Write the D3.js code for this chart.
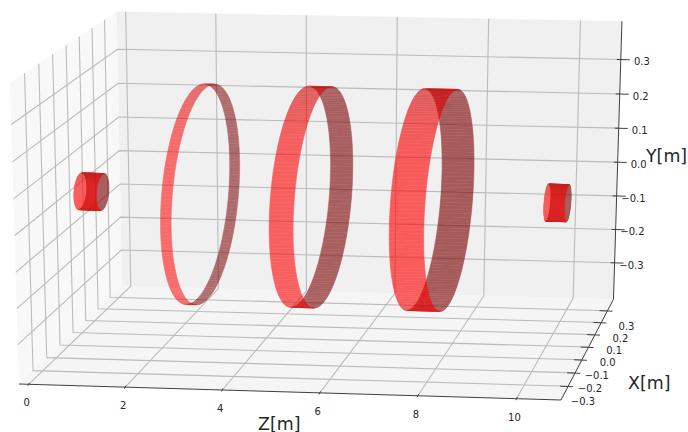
<!DOCTYPE html>
<html>
<head>
<meta charset="utf-8">
<script src="https://cdnjs.cloudflare.com/ajax/libs/d3/7.8.5/d3.min.js"></script>
<style>
  body { margin: 0; background: #fff; }
  text { font-family: "DejaVu Sans", sans-serif; fill: #262626; }
</style>
</head>
<body>
<div id="chart"></div>
<script>
// cylinders along the beam axis
const ringZStart = [0.03, 2.52, 4.75, 7.2, 9.95];
const ringZEnd = [0.51, 2.74, 5.24, 7.9, 10.38];
const ringRadius = [0.05, 0.3, 0.3, 0.3, 0.05];
const ringOpacity = [0.63, 0.55, 0.6, 0.62, 0.63];

const zTicks = [0, 2, 4, 6, 8, 10];
const xTicks = [-0.3, -0.2, -0.1, 0, 0.1, 0.2, 0.3];
const yTicks = [-0.3, -0.2, -0.1, 0, 0.1, 0.2, 0.3];

const zDomain = [-0.2, 10.9];
const xDomain = [-0.4, 0.4];
const yDomain = [-0.41, 0.41];

const width = 688;
const height = 432;

// unit box corners on screen, [z, x, y] in 0..1
const origin = [19, 384];
const boxCorners = [
  [[1, 0, 0], [561, 400]],
  [[0, 1, 0], [122, 286]],
  [[0, 0, 1], [10, 83]],
  [[1, 1, 0], [613, 300]],
  [[0, 1, 1], [116, 11]],
  [[1, 1, 1], [622, 21]],
];

function solve3(A, b) {
  const m = A.map((row, i) => [...row, b[i]]);
  for (let i = 0; i < 3; i++) {
    let p = i;
    for (let r = i + 1; r < 3; r++) if (Math.abs(m[r][i]) > Math.abs(m[p][i])) p = r;
    [m[i], m[p]] = [m[p], m[i]];
    for (let r = 0; r < 3; r++) {
      if (r === i) continue;
      const f = m[r][i] / m[i][i];
      for (let c = i; c < 4; c++) m[r][c] -= f * m[i][c];
    }
  }
  return m.map((row, i) => row[3] / row[i]);
}

// perspective of the box, fitted to its corners
function fitCamera() {
  const axes = boxCorners.slice(0, 3).map((d) => d[1]);
  const rows = [];
  const rhs = [];
  boxCorners.slice(3).forEach(([e, p]) => {
    [0, 1].forEach((k) => {
      rows.push(e.map((ei, i) => ei * (p[k] - axes[i][k])));
      rhs.push(origin[k] - p[k] + d3.sum(e, (ei, i) => ei * (axes[i][k] - origin[k])));
    });
  });
  const AtA = [0, 1, 2].map((i) => [0, 1, 2].map((j) => d3.sum(rows, (r) => r[i] * r[j])));
  const Atb = [0, 1, 2].map((i) => d3.sum(rows, (r, n) => r[i] * rhs[n]));
  const g = solve3(AtA, Atb);
  const a = [0, 1].map((k) => axes.map((ax, i) => ax[k] * (1 + g[i]) - origin[k]));
  return { g, a };
}

const camera = fitCamera();
const zScale = d3.scaleLinear().domain(zDomain).range([0, 1]);
const xScale = d3.scaleLinear().domain(xDomain).range([0, 1]);
const yScale = d3.scaleLinear().domain(yDomain).range([0, 1]);

function project(z, x, y) {
  const e = [zScale(z), xScale(x), yScale(y)];
  const w = 1 + d3.sum(e, (v, i) => v * camera.g[i]);
  return [0, 1].map((k) => (origin[k] + d3.sum(e, (v, i) => v * camera.a[k][i])) / w);
}

const line = d3.line();
const svg = d3.select('#chart').append('svg')
  .attr('width', width)
  .attr('height', height)
  .style('display', 'block');

const [z0, z1] = zDomain;
const [x0, x1] = xDomain;
const [y0, y1] = yDomain;

// panes
const panes = [
  { fill: '#f8f8f8', pts: [[z0, x0, y0], [z0, x1, y0], [z0, x1, y1], [z0, x0, y1]] },
  { fill: '#f5f5f5', pts: [[z0, x0, y0], [z1, x0, y0], [z1, x1, y0], [z0, x1, y0]] },
  { fill: '#f0f0f0', pts: [[z0, x1, y0], [z1, x1, y0], [z1, x1, y1], [z0, x1, y1]] },
];
svg.append('g').selectAll('path').data(panes).enter()
  .append('path')
  .attr('d', (d) => `${line(d.pts.map((p) => project(...p)))}Z`)
  .attr('fill', (d) => d.fill);

// grid
const gridLines = [];
zTicks.forEach((z) => {
  gridLines.push([[z, x0, y0], [z, x1, y0], [z, x1, y1]]);
});
xTicks.forEach((x) => {
  gridLines.push([[z1, x, y0], [z0, x, y0], [z0, x, y1]]);
});
yTicks.forEach((y) => {
  gridLines.push([[z0, x0, y], [z0, x1, y], [z1, x1, y]]);
});
svg.append('g').selectAll('path').data(gridLines).enter()
  .append('path')
  .attr('d', (d) => line(d.map((p) => project(...p))))
  .attr('fill', 'none')
  .attr('stroke', '#bbbbbb')
  .attr('stroke-width', 1.1);

// cylinders, back half first then front half
// the split sits where the ring's outline tops out on screen
const splitAngle = 0.32;
const segments = 90;
function drawHalf(parent, i, front) {
  const r = ringRadius[i];
  const start = (front ? Math.PI / 2 : -Math.PI / 2) - splitAngle;
  const quads = d3.range(segments).map((s) => {
    const a0 = start + (s / segments) * Math.PI;
    const a1 = start + ((s + 1) / segments) * Math.PI;
    const pts = [
      [ringZStart[i], r * Math.cos(a0), r * Math.sin(a0)],
      [ringZEnd[i], r * Math.cos(a0), r * Math.sin(a0)],
      [ringZEnd[i], r * Math.cos(a1), r * Math.sin(a1)],
      [ringZStart[i], r * Math.cos(a1), r * Math.sin(a1)],
    ];
    const upness = Math.abs(Math.sin((a0 + a1) / 2));
    const shade = front ? 255 - 40 * upness ** 6 : 123;
    return { pts, color: `rgb(${Math.round(shade)},0,0)` };
  });
  parent.append('g')
    .attr('opacity', ringOpacity[i])
    .selectAll('path').data(quads).enter()
    .append('path')
    .attr('d', (d) => `${line(d.pts.map((p) => project(...p)))}Z`)
    .attr('fill', (d) => d.color)
    .attr('stroke', (d) => d.color)
    .attr('stroke-width', 0.5);
}
const marks = svg.append('g');
ringRadius.forEach((_, i) => {
  drawHalf(marks, i, false);
  drawHalf(marks, i, true);
});

// axes
const axisLines = [
  [[z0, x0, y0], [z1, x0, y0]],
  [[z1, x0, y0], [z1, x1, y0]],
  [[z1, x1, y0], [z1, x1, y1]],
];
svg.append('g').selectAll('path').data(axisLines).enter()
  .append('path')
  .attr('d', (d) => line(d.map((p) => project(...p))))
  .attr('fill', 'none')
  .attr('stroke', '#404040')
  .attr('stroke-width', 1);

function tickFormat(v) {
  return d3.format('.1f')(v).replace('-', '\u2212');
}

const ticks = svg.append('g');
zTicks.forEach((z) => {
  const [px, py] = project(z, x0, y0);
  ticks.append('path').attr('d', line([[px + 0.8, py - 1.5], [px - 0.8, py + 1.5]]))
    .attr('stroke', '#404040').attr('stroke-width', 1);
  ticks.append('text').attr('x', px - 2).attr('y', py + 22)
    .attr('text-anchor', 'middle').attr('font-size', 10).text(z);
});
xTicks.forEach((x) => {
  const [px, py] = project(z1, x, y0);
  ticks.append('path').attr('d', line([[px - 8, py], [px + 5, py + 0.5]]))
    .attr('stroke', '#404040').attr('stroke-width', 1);
  ticks.append('text').attr('x', px + 27).attr('y', py + 19)
    .attr('text-anchor', 'end').attr('font-size', 10).text(tickFormat(x));
});
yTicks.forEach((y) => {
  const [px, py] = project(z1, x1, y);
  ticks.append('path').attr('d', line([[px - 4, py], [px + 9, py + 0.3]]))
    .attr('stroke', '#404040').attr('stroke-width', 1);
  ticks.append('text').attr('x', px + 29).attr('y', py + 6)
    .attr('text-anchor', 'end').attr('font-size', 10).text(tickFormat(y));
});

// axis titles
const titles = [
  { label: 'Z[m]', x: 258, y: 429.5 },
  { label: 'Y[m]', x: 646, y: 162 },
  { label: 'X[m]', x: 628, y: 389 },
];
svg.append('g').selectAll('text').data(titles).enter()
  .append('text')
  .attr('x', (d) => d.x)
  .attr('y', (d) => d.y)
  .attr('font-size', 17.4)
  .text((d) => d.label);
</script>
</body>
</html>
